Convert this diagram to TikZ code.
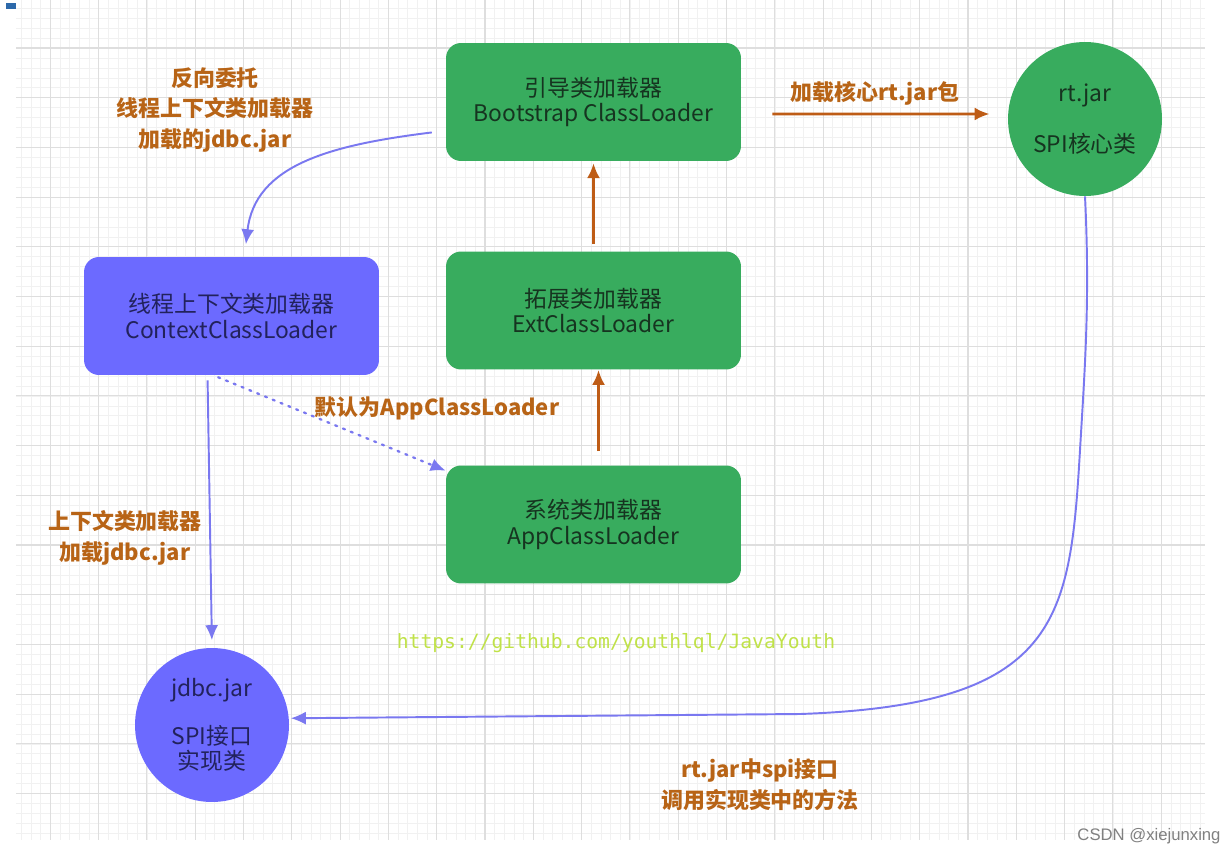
\documentclass[tikz,border=0pt]{standalone}
\usepackage{fontspec}
\usetikzlibrary{arrows.meta}
\setmainfont{Noto Sans CJK SC}
\newfontfamily\urlfont{DejaVu Sans Mono}
\newfontfamily\markfont{Liberation Sans}
\definecolor{boxgreen}{RGB}{56,172,94}
\definecolor{boxpurple}{RGB}{108,106,255}
\definecolor{gtext}{RGB}{22,52,32}
\definecolor{ptext}{RGB}{34,34,92}
\definecolor{lblorange}{RGB}{184,100,22}
\definecolor{arrorange}{RGB}{190,92,22}
\definecolor{lnpurple}{RGB}{122,120,240}
\definecolor{urlgreen}{RGB}{192,226,72}
\definecolor{gridmajor}{RGB}{222,222,222}
\definecolor{gridminor}{RGB}{241,241,241}
\definecolor{tabblue}{RGB}{45,105,170}
\begin{document}
\begin{tikzpicture}[>={Latex[length=0.3cm,width=0.26cm]}, x=0.02cm, y=-0.02cm,
  gbox/.style={fill=boxgreen, rounded corners=0.3cm, minimum width=5.9cm, minimum height=2.36cm,
    align=center, text=gtext, font=\fontsize{13}{14.5}\selectfont},
  pbox/.style={gbox, fill=boxpurple, text=ptext},
  gball/.style={circle, fill=boxgreen, minimum size=3.08cm, align=center, text=gtext,
    font=\fontsize{13}{14.5}\selectfont},
  pball/.style={gball, fill=boxpurple, text=ptext},
  lbl/.style={align=center, text=lblorange, font=\fontsize{12.5}{17.5}\selectfont\bfseries},
  up/.style={->, arrorange, line width=1.7pt},
  spi/.style={->, lnpurple, line width=1.1pt}]
\useasboundingbox (0,0) rectangle (1229,855);
\fill[white] (0,0) rectangle (1229,855);
\foreach \i in {2,...,124} \draw[gridminor, line width=0.35pt] (2+9.66*\i,0) -- (2+9.66*\i,840);
\foreach \j in {-4,...,79} \draw[gridminor, line width=0.35pt] (16,48+9.94*\j) -- (1205,48+9.94*\j);
\foreach \i in {1,...,24} \draw[gridmajor, line width=0.6pt] (2+48.3*\i,0) -- (2+48.3*\i,840);
\foreach \j in {0,...,15} \draw[gridmajor, line width=0.6pt] (16,48+49.7*\j) -- (1205,48+49.7*\j);
\fill[tabblue] (6,3) rectangle (16,9);

\node[gbox] (boot) at (593.5,102) {引导类加载器\\Bootstrap ClassLoader};
\node[gbox] (ext) at (593.5,310.5) {拓展类加载器\\ExtClassLoader};
\node[gbox] (app) at (593.5,524.5) {系统类加载器\\AppClassLoader};
\node[pbox] (ctx) at (231.5,316) {线程上下文类加载器\\ContextClassLoader};
\node[gball] (rt) at (1085,119) {rt.jar\\[0.5cm]SPI核心类};
\node[pball] (jdbc) at (212,725) {jdbc.jar\\[0.45cm]SPI接口\\实现类};

\node[lbl] (rev) at (215,110) {反向委托\\线程上下文类加载器\\加载的jdbc.jar};
\node[lbl] (core) at (875,93) {加载核心rt.jar包};
\node[lbl] (dflt) at (437,408) {默认为AppClassLoader};
\node[lbl] (load) at (125,538) {上下文类加载器\\加载jdbc.jar};
\node[lbl] (call) at (760,785) {rt.jar中spi接口\\调用实现类中的方法};
\node[text=urlgreen, font=\urlfont\fontsize{11.2}{13}\selectfont] (url) at (616,643) {https://github.com/youthlql/JavaYouth};
\node[text=gray, font=\markfont\fontsize{9.5}{11}\selectfont] (mark) at (1149,836) {CSDN @xiejunxing};

\draw[up, shorten <=8pt] ([xshift=0.1cm]app.north) -- ([xshift=0.1cm]ext.south);
\draw[up, shorten <=4pt, shorten >=1pt] (ext.north) -- (boot.south);
\draw[up, shorten <=0.62cm, shorten >=0.36cm] ([yshift=-0.24cm]boot.east) -- ([yshift=0.1cm]rt.west);
\draw[spi, shorten <=0.28cm, shorten >=0.25cm] (boot.191) .. controls (330,145) and (255,165) .. ([xshift=0.26cm]ctx.north);
\draw[spi, shorten <=0.1cm, shorten >=0.15cm] ([xshift=-0.48cm]ctx.south) -- (jdbc.north);
\draw[spi, line width=1.3pt, dash pattern=on 1.2pt off 3.6pt, line cap=round, shorten <=0.1cm] ([xshift=-0.36cm]ctx.south) -- (app.160);
\draw[spi, shorten >=1pt] (rt.south) .. controls (1090,300) and (1085,365) .. (1080,450)
  .. controls (1070,620) and (1060,705) .. (800,714) -- (jdbc.5);
\end{tikzpicture}
\end{document}
